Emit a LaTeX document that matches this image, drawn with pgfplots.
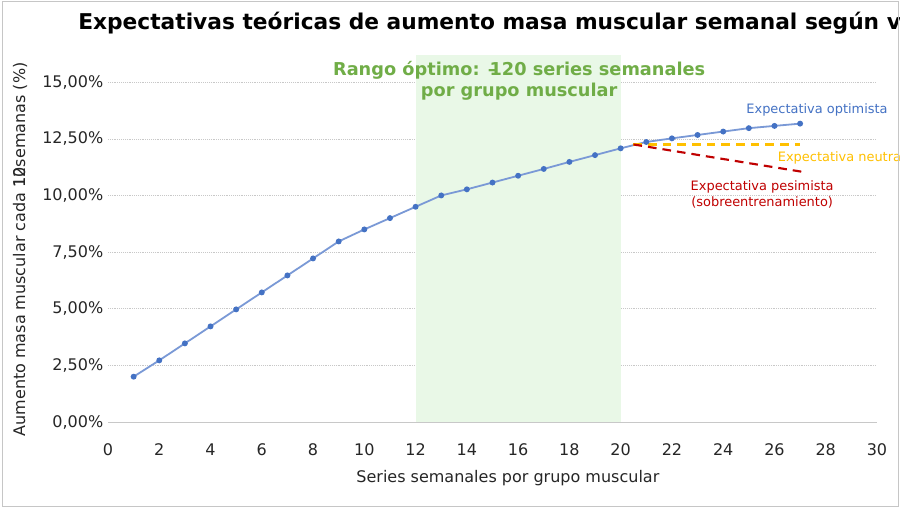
\documentclass[border=0pt]{standalone}
\usepackage{pgfplots}
\pgfplotsset{compat=1.18}
\usepackage{fontspec}
\setmainfont{DejaVu Sans}

\definecolor{optline}{RGB}{122,153,214}
\definecolor{optmark}{RGB}{68,114,196}
\definecolor{neutral}{RGB}{255,192,0}
\definecolor{pesim}{RGB}{192,0,0}
\definecolor{band}{RGB}{233,248,231}
\definecolor{bandtext}{RGB}{112,173,71}
\definecolor{gridc}{RGB}{200,200,200}

\begin{document}
\begin{tikzpicture}
\begin{scope}
\clip (0,0) rectangle (675pt,381.75pt);
\fill[white] (0,0) rectangle (675pt,381.75pt);

\begin{axis}[
    at={(81pt,65.25pt)}, anchor=south west,
    scale only axis,
    width=576.75pt, height=275.25pt,
    xmin=0, xmax=30, ymin=0, ymax=16.2,
    xtick={0,2,...,30},
    ytick={2.5,5,7.5,10,12.5,15},
    extra y ticks={0},
    extra y tick style={grid style={solid, gridc, line width=0.6pt}},
    yticklabel={\pgfmathprintnumber[fixed, fixed zerofill, precision=2, use comma]{\tick}\%},
    /pgf/number format/assume math mode=true,
    ticklabel style={font=\fontsize{12}{14}\selectfont, text=black!85},
    xticklabel style={yshift=-12.5pt},
    major tick length=0pt,
    axis line style={draw=none},
    ymajorgrids=true,
    grid style={densely dotted, gridc},
    xlabel={Series semanales por grupo muscular},
    xlabel style={at={(axis description cs:0.52,-0.1526)}, anchor=center,
        font=\fontsize{12}{14}\selectfont, text=black!85},
    ylabel={Aumento masa muscular cada \rlap{10}12semanas (\%)},
    ylabel style={at={(axis description cs:-0.1144,0.47)}, anchor=center, rotate=0,
        font=\fontsize{12}{14}\selectfont, text=black!85},
    clip=false,
]
% zona optima
\addplot[draw=none, fill=band]
    coordinates {(12,0) (20,0) (20,16.2) (12,16.2)} -- cycle;

% expectativa optimista
\addplot[color=optline, line width=1.35pt, mark=*, mark size=1.5pt,
    mark options={fill=optmark, draw=optmark}]
coordinates {
    (1,2.0) (2,2.72) (3,3.47) (4,4.22) (5,4.97) (6,5.72) (7,6.47)
    (8,7.22) (9,7.97) (10,8.5) (11,9.0) (12,9.5) (13,10.0) (14,10.27)
    (15,10.57) (16,10.87) (17,11.17) (18,11.48) (19,11.78) (20,12.08)
    (21,12.36) (22,12.52) (23,12.67) (24,12.82) (25,12.97) (26,13.07)
    (27,13.17)
};

% expectativa neutra
\addplot[color=neutral, line width=1.6pt, dash pattern=on 6.5pt off 4.5pt]
coordinates {(20.5,12.25) (27,12.25)};

% expectativa pesimista
\addplot[color=pesim, line width=1.6pt, dash pattern=on 6.5pt off 4.5pt]
coordinates {(20.5,12.25) (27.05,11.05)};

\node[align=center, text=bandtext, font=\bfseries\fontsize{13.3}{15.75}\selectfont]
    at (axis cs:16.04,15.05)
    {Rango óptimo: –\kern-0.4em120 series semanales\\por grupo muscular};

\node[text=optmark, font=\fontsize{9.7}{11}\selectfont]
    at (axis cs:27.66,13.76) {Expectativa optimista};
\node[text=neutral, anchor=west, font=\fontsize{9.7}{11}\selectfont]
    at (axis cs:25.95,11.65) {Expectativa neutra};
\node[text=pesim, align=center, font=\fontsize{9.7}{11.5}\selectfont]
    at (axis cs:25.52,10.04) {Expectativa pesimista\\(sobreentrenamiento)};
\end{axis}

\node[anchor=west, inner sep=0pt, font=\bfseries\fontsize{16.3}{18}\selectfont]
    at (58.5pt,364.5pt)
    {Expectativas teóricas de aumento masa muscular semanal según volumen de entrenamiento};

\draw[gray!45, line width=0.75pt] (1.5pt,1.5pt) rectangle (673.5pt,380.25pt);
\end{scope}
\pgfresetboundingbox
\path[use as bounding box] (0,0) rectangle (675pt,381.75pt);
\end{tikzpicture}
\end{document}
